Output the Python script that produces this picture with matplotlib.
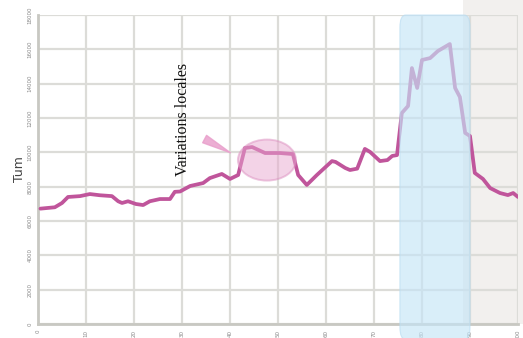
import matplotlib
matplotlib.use("Agg")
import matplotlib.pyplot as plt
from matplotlib.patches import Ellipse, FancyBboxPatch, Rectangle, FancyArrowPatch

# Data
x_vals = [0.5, 3.5, 5, 6.25, 8.75, 10.8, 12.9, 15.4, 16.7, 17.5, 18.75, 20.4, 21.9, 23.3,
          25.4, 27.5, 28.5, 29.6, 31.7, 34.4, 35.8, 38.3, 40, 41.7, 43.1, 44.6, 47.3,
          50.4, 53.1, 54.2, 56, 58.1, 61.25, 62, 64, 65, 66.5, 68.1, 69.2, 71.25, 72.8,
          73.8, 74.8, 75.8, 77.1, 77.9, 79, 80, 81.7, 83.3, 85.8, 86.9, 87.9, 89, 90,
          91, 92.7, 94.2, 96.25, 97.9, 99, 100]
y_vals = [6720, 6800, 7050, 7400, 7450, 7570, 7500, 7450, 7150, 7050, 7150, 6990, 6930, 7150,
          7280, 7280, 7700, 7720, 8040, 8210, 8500, 8740, 8450, 8680, 10250, 10310, 9960,
          9960, 9900, 8680, 8100, 8680, 9490, 9440, 9090, 8970, 9050, 10200, 10020, 9490, 9550,
          9790, 9840, 12290, 12700, 14910, 13750, 15380, 15490, 15900, 16310, 13750, 13220, 11130, 10950,
          8800, 8450, 7920, 7630, 7510, 7630, 7400]
x_ticks = [0, 10, 20, 30, 40, 50, 60, 70, 80, 90, 100]
y_ticks = [0, 2000, 4000, 6000, 8000, 10000, 12000, 14000, 16000, 18000]
highlight_span = [75.4, 90.0]
gray_span = [88.5, 101.2]
annotation_text = "Variations locales"
y_label = "Tum"

fig = plt.figure(figsize=(5.23, 3.38), dpi=100)
ax = fig.add_axes([0.0727, 0.0414, 0.9177, 0.9142])
ax.set_xlim(0, 100)
ax.set_ylim(0, 18000)

# gray background region (behind)
ax.add_patch(Rectangle((gray_span[0], 0), gray_span[1] - gray_span[0], 18900,
                       facecolor="#f2f0ee", edgecolor="none", zorder=0, clip_on=False))

ax.set_xticks(x_ticks)
ax.set_yticks(y_ticks)
ax.grid(True, color="#dcdcd8", linewidth=1.6, zorder=1)
ax.set_axisbelow(True)
for s in ["top", "right"]:
    ax.spines[s].set_visible(False)
for s in ["left", "bottom"]:
    ax.spines[s].set_color("#c8c8c2")
    ax.spines[s].set_linewidth(2)
ax.tick_params(length=0, labelsize=4, labelcolor="#888888", pad=4)
for lab in ax.get_xticklabels():
    lab.set_rotation(90)
for lab in ax.get_yticklabels():
    lab.set_rotation(90)
    lab.set_va("center")
ax.set_ylabel(y_label, fontsize=9, color="#444444", labelpad=1)

ax.plot(x_vals, y_vals, color="#c0559b", linewidth=2.7, solid_joinstyle="round",
        solid_capstyle="round", zorder=3)

# highlight span (above line, translucent)
ax.add_patch(FancyBboxPatch((highlight_span[0], -900), highlight_span[1] - highlight_span[0], 18900,
                            boxstyle="round,pad=0,rounding_size=1.2", mutation_aspect=600,
                            facecolor="#c5e5f7", edgecolor="#b8dcf2", linewidth=0.8,
                            alpha=0.65, zorder=4, clip_on=False))

# ellipse
ax.add_patch(Ellipse((47.7, 9550), 12.1, 2390, facecolor="#e9a8d0", edgecolor="#dc8fc0",
                     linewidth=1.4, alpha=0.5, zorder=4))

# arrow
ax.add_patch(FancyArrowPatch((34.2, 10850), (40.6, 9900),
                             arrowstyle="wedge,tail_width=6,shrink_factor=0.5",
                             color="#e9a0cc", alpha=0.85, zorder=4, mutation_scale=1))

ax.text(30.2, 11900, annotation_text, rotation=90, ha="center", va="center",
        fontsize=11.5, family="Liberation Serif", color="#111111", zorder=5)

fig.savefig("out.png", dpi=100)
